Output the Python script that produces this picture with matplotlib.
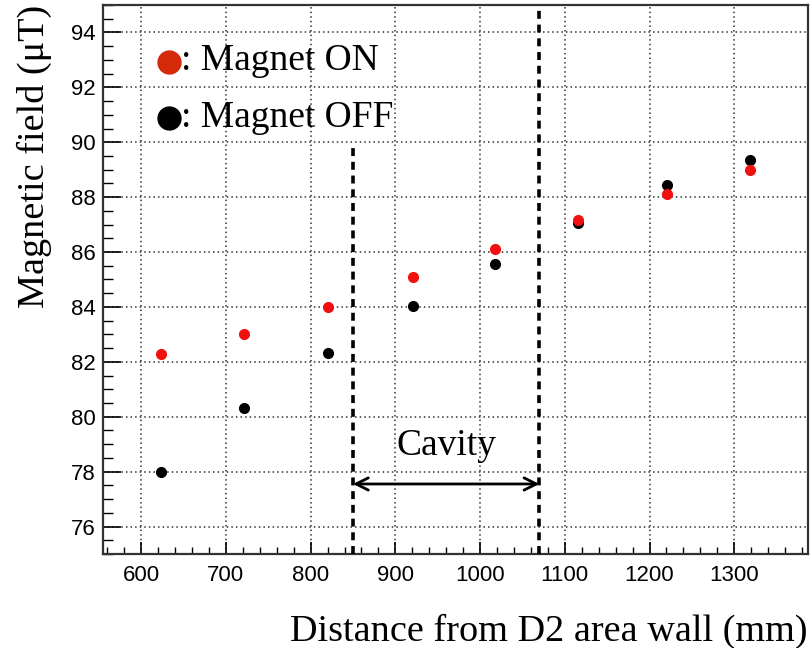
import matplotlib
matplotlib.use("Agg")
import matplotlib.pyplot as plt
from matplotlib.ticker import MultipleLocator

# Measurement positions (mm) and field readings (uT)
distance_mm = [623, 721, 820, 921, 1018, 1116, 1221, 1319]
field_on = [82.3, 83.0, 84.0, 85.1, 86.1, 87.15, 88.1, 89.0]
field_off = [78.0, 80.33, 82.33, 84.05, 85.58, 87.05, 88.43, 89.35]

cavity_start = 850
cavity_end = 1070

xlim = (555, 1387)
ylim = (75, 95)

serif = ["Liberation Serif", "DejaVu Serif"]
sans = ["Liberation Sans", "DejaVu Sans"]

fig = plt.figure(figsize=(8.1, 6.48), dpi=100)
ax = fig.add_axes([0.1272, 0.1451, 0.8703, 0.8472])
ax.set_xlim(*xlim)
ax.set_ylim(*ylim)

# ROOT-like frame and ticks
for side in ["left", "bottom", "top", "right"]:
    ax.spines[side].set_linewidth(1.6)
    ax.spines[side].set_color("#333333")
ax.xaxis.set_major_locator(MultipleLocator(100))
ax.xaxis.set_minor_locator(MultipleLocator(20))
ax.yaxis.set_major_locator(MultipleLocator(2))
ax.yaxis.set_minor_locator(MultipleLocator(0.5))
ax.tick_params(axis="y", which="major", direction="in", length=13, width=1.2, pad=5)
ax.tick_params(axis="y", which="minor", direction="in", length=7, width=1.0)
ax.tick_params(axis="x", which="major", direction="in", length=9, width=1.2, pad=8)
ax.tick_params(axis="x", which="minor", direction="in", length=5, width=1.0)
for lbl in ax.get_xticklabels() + ax.get_yticklabels():
    lbl.set_family(sans)
    lbl.set_fontsize(16)

ax.grid(True, which="major", linestyle=(0, (1, 2)), color="#333333", linewidth=1.1)
ax.set_axisbelow(True)

# Data points
ax.plot(distance_mm, field_off, "o", color="black", markersize=7, zorder=4)
ax.plot(distance_mm, field_on, "o", color="#f01010", markersize=7, zorder=5)

# Cavity boundaries
ax.plot([cavity_start, cavity_start], [ylim[0], 89.8], color="black",
        linestyle=(0, (2.2, 1.6)), linewidth=2.6, zorder=3)
ax.plot([cavity_end, cavity_end], [ylim[0], ylim[1]], color="black",
        linestyle=(0, (2.2, 1.6)), linewidth=2.6, zorder=3)
ax.annotate("", xy=(cavity_start, 77.55), xytext=(cavity_end, 77.55),
            arrowprops=dict(arrowstyle="<->", color="black", lw=2.0,
                            mutation_scale=22, shrinkA=0, shrinkB=0))
ax.text((cavity_start + cavity_end) / 2, 78.6, "Cavity", ha="center",
        va="baseline", fontsize=27, family=serif)

# Legend
ax.plot([0.0936], [0.897], "o", color="#d42a0a", markersize=16.5,
        transform=ax.transAxes, clip_on=False, zorder=6)
ax.plot([0.0936], [0.794], "o", color="black", markersize=16.5,
        transform=ax.transAxes, clip_on=False, zorder=6)
ax.text(0.110, 0.8816, ": Magnet ON", transform=ax.transAxes,
        fontsize=27, family=serif, va="baseline", ha="left")
ax.text(0.110, 0.778, ": Magnet OFF", transform=ax.transAxes,
        fontsize=27, family=serif, va="baseline", ha="left")

ax.set_xlabel("Distance from D2 area wall (mm)", loc="right", fontsize=27.5,
              family=serif, labelpad=20)
ax.set_ylabel("Magnetic field (\u03bcT)", loc="top", fontsize=27.5,
              family=serif, labelpad=14)

fig.savefig("out.png", dpi=100)
